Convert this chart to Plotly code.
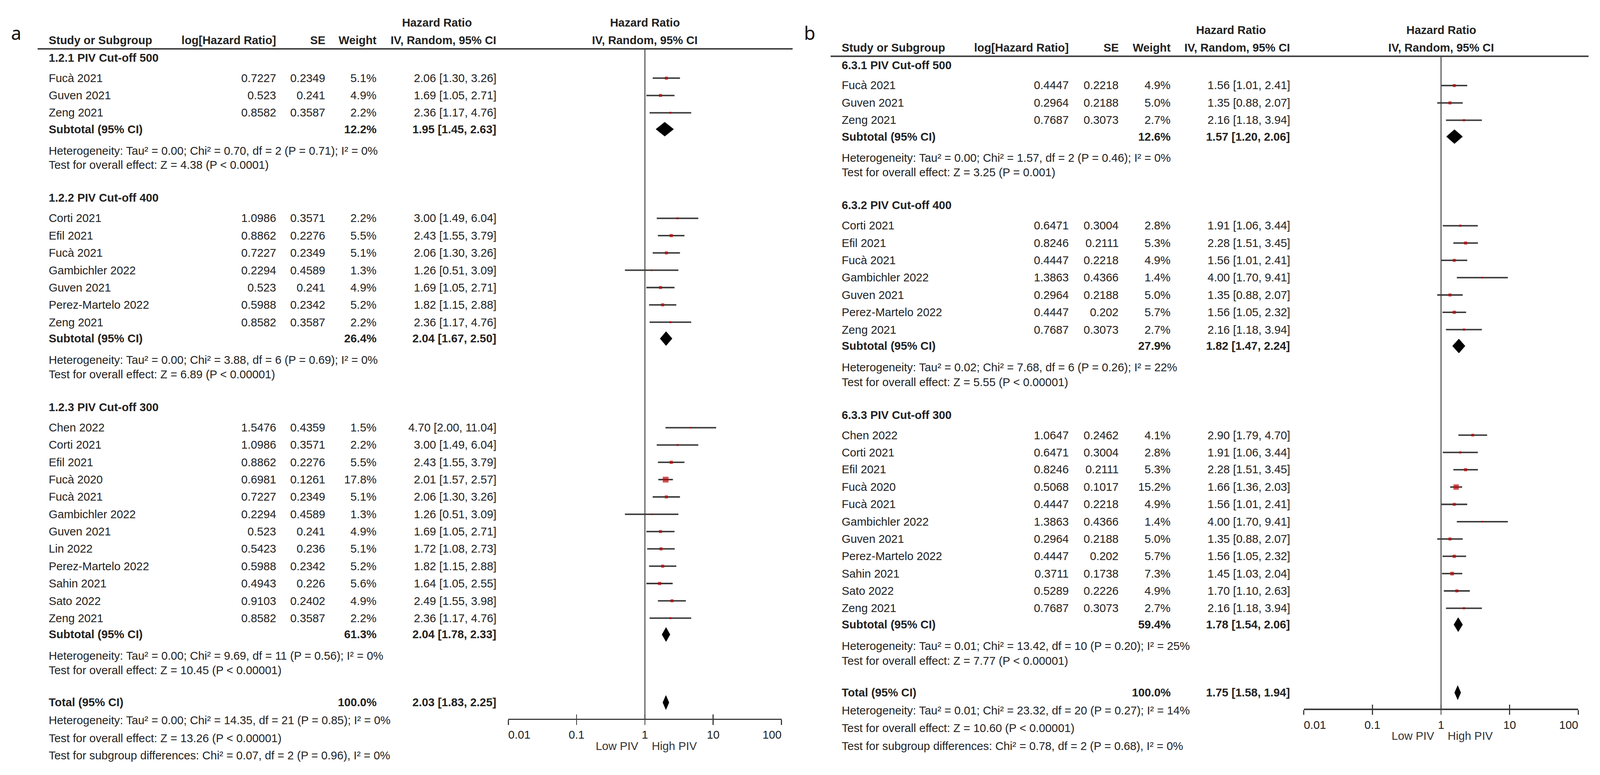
import plotly.graph_objects as go

W, H = 4338, 1983

# ---------------- data: panel a ----------------
a_group_titles = ["1.2.1 PIV Cut-off 500", "1.2.2 PIV Cut-off 400", "1.2.3 PIV Cut-off 300"]
a_group_sizes = [3, 7, 12]
a_study = ["Fucà 2021", "Guven 2021", "Zeng 2021",
           "Corti 2021", "Efil 2021", "Fucà 2021", "Gambichler 2022", "Guven 2021", "Perez-Martelo 2022", "Zeng 2021",
           "Chen 2022", "Corti 2021", "Efil 2021", "Fucà 2020", "Fucà 2021", "Gambichler 2022", "Guven 2021",
           "Lin 2022", "Perez-Martelo 2022", "Sahin 2021", "Sato 2022", "Zeng 2021"]
a_loghr = [0.7227, 0.523, 0.8582,
           1.0986, 0.8862, 0.7227, 0.2294, 0.523, 0.5988, 0.8582,
           1.5476, 1.0986, 0.8862, 0.6981, 0.7227, 0.2294, 0.523, 0.5423, 0.5988, 0.4943, 0.9103, 0.8582]
a_se = [0.2349, 0.241, 0.3587,
        0.3571, 0.2276, 0.2349, 0.4589, 0.241, 0.2342, 0.3587,
        0.4359, 0.3571, 0.2276, 0.1261, 0.2349, 0.4589, 0.241, 0.236, 0.2342, 0.226, 0.2402, 0.3587]
a_weight = [5.1, 4.9, 2.2,
            2.2, 5.5, 5.1, 1.3, 4.9, 5.2, 2.2,
            1.5, 2.2, 5.5, 17.8, 5.1, 1.3, 4.9, 5.1, 5.2, 5.6, 4.9, 2.2]
a_hr = [2.06, 1.69, 2.36,
        3.00, 2.43, 2.06, 1.26, 1.69, 1.82, 2.36,
        4.70, 3.00, 2.43, 2.01, 2.06, 1.26, 1.69, 1.72, 1.82, 1.64, 2.49, 2.36]
a_lo = [1.30, 1.05, 1.17,
        1.49, 1.55, 1.30, 0.51, 1.05, 1.15, 1.17,
        2.00, 1.49, 1.55, 1.57, 1.30, 0.51, 1.05, 1.08, 1.15, 1.05, 1.55, 1.17]
a_hi = [3.26, 2.71, 4.76,
        6.04, 3.79, 3.26, 3.09, 2.71, 2.88, 4.76,
        11.04, 6.04, 3.79, 2.57, 3.26, 3.09, 2.71, 2.73, 2.88, 2.55, 3.98, 4.76]
a_sub_weight = [12.2, 26.4, 61.3]
a_sub_hr = [1.95, 2.04, 2.04]
a_sub_lo = [1.45, 1.67, 1.78]
a_sub_hi = [2.63, 2.50, 2.33]
a_sub_het = ["Heterogeneity: Tau² = 0.00; Chi² = 0.70, df = 2 (P = 0.71); I² = 0%",
             "Heterogeneity: Tau² = 0.00; Chi² = 3.88, df = 6 (P = 0.69); I² = 0%",
             "Heterogeneity: Tau² = 0.00; Chi² = 9.69, df = 11 (P = 0.56); I² = 0%"]
a_sub_test = ["Test for overall effect: Z = 4.38 (P < 0.0001)",
              "Test for overall effect: Z = 6.89 (P < 0.00001)",
              "Test for overall effect: Z = 10.45 (P < 0.00001)"]
a_total = [100.0, 2.03, 1.83, 2.25]
a_total_lines = ["Heterogeneity: Tau² = 0.00; Chi² = 14.35, df = 21 (P = 0.85); I² = 0%",
                 "Test for overall effect: Z = 13.26 (P < 0.00001)",
                 "Test for subgroup differences: Chi² = 0.07, df = 2 (P = 0.96), I² = 0%"]

# ---------------- data: panel b ----------------
b_group_titles = ["6.3.1 PIV Cut-off 500", "6.3.2 PIV Cut-off 400", "6.3.3 PIV Cut-off 300"]
b_group_sizes = [3, 7, 11]
b_study = ["Fucà 2021", "Guven 2021", "Zeng 2021",
           "Corti 2021", "Efil 2021", "Fucà 2021", "Gambichler 2022", "Guven 2021", "Perez-Martelo 2022", "Zeng 2021",
           "Chen 2022", "Corti 2021", "Efil 2021", "Fucà 2020", "Fucà 2021", "Gambichler 2022", "Guven 2021",
           "Perez-Martelo 2022", "Sahin 2021", "Sato 2022", "Zeng 2021"]
b_loghr = [0.4447, 0.2964, 0.7687,
           0.6471, 0.8246, 0.4447, 1.3863, 0.2964, 0.4447, 0.7687,
           1.0647, 0.6471, 0.8246, 0.5068, 0.4447, 1.3863, 0.2964, 0.4447, 0.3711, 0.5289, 0.7687]
b_se = [0.2218, 0.2188, 0.3073,
        0.3004, 0.2111, 0.2218, 0.4366, 0.2188, 0.202, 0.3073,
        0.2462, 0.3004, 0.2111, 0.1017, 0.2218, 0.4366, 0.2188, 0.202, 0.1738, 0.2226, 0.3073]
b_weight = [4.9, 5.0, 2.7,
            2.8, 5.3, 4.9, 1.4, 5.0, 5.7, 2.7,
            4.1, 2.8, 5.3, 15.2, 4.9, 1.4, 5.0, 5.7, 7.3, 4.9, 2.7]
b_hr = [1.56, 1.35, 2.16,
        1.91, 2.28, 1.56, 4.00, 1.35, 1.56, 2.16,
        2.90, 1.91, 2.28, 1.66, 1.56, 4.00, 1.35, 1.56, 1.45, 1.70, 2.16]
b_lo = [1.01, 0.88, 1.18,
        1.06, 1.51, 1.01, 1.70, 0.88, 1.05, 1.18,
        1.79, 1.06, 1.51, 1.36, 1.01, 1.70, 0.88, 1.05, 1.03, 1.10, 1.18]
b_hi = [2.41, 2.07, 3.94,
        3.44, 3.45, 2.41, 9.41, 2.07, 2.32, 3.94,
        4.70, 3.44, 3.45, 2.03, 2.41, 9.41, 2.07, 2.32, 2.04, 2.63, 3.94]
b_sub_weight = [12.6, 27.9, 59.4]
b_sub_hr = [1.57, 1.82, 1.78]
b_sub_lo = [1.20, 1.47, 1.54]
b_sub_hi = [2.06, 2.24, 2.06]
b_sub_het = ["Heterogeneity: Tau² = 0.00; Chi² = 1.57, df = 2 (P = 0.46); I² = 0%",
             "Heterogeneity: Tau² = 0.02; Chi² = 7.68, df = 6 (P = 0.26); I² = 22%",
             "Heterogeneity: Tau² = 0.01; Chi² = 13.42, df = 10 (P = 0.20); I² = 25%"]
b_sub_test = ["Test for overall effect: Z = 3.25 (P = 0.001)",
              "Test for overall effect: Z = 5.55 (P < 0.00001)",
              "Test for overall effect: Z = 7.77 (P < 0.00001)"]
b_total = [100.0, 1.75, 1.58, 1.94]
b_total_lines = ["Heterogeneity: Tau² = 0.01; Chi² = 23.32, df = 20 (P = 0.27); I² = 14%",
                 "Test for overall effect: Z = 10.60 (P < 0.00001)",
                 "Test for subgroup differences: Chi² = 0.78, df = 2 (P = 0.68), I² = 0%"]

axis_ticks = [0.01, 0.1, 1, 10, 100]
axis_ticklabels = ["0.01", "0.1", "1", "10", "100"]
favours = ["Low PIV", "High PIV"]

# ---------------- styling / layout constants ----------------
FONT = "Liberation Sans, Arial, sans-serif"
FS = 31
TXT = "#222222"
RED = "#c00000"
GREY = "#3a3a3a"
ROW = 44.3

panels = [
    dict(label="a", data=dict(titles=a_group_titles, sizes=a_group_sizes, study=a_study, loghr=a_loghr, se=a_se,
                              weight=a_weight, hr=a_hr, lo=a_lo, hi=a_hi, sw=a_sub_weight, shr=a_sub_hr,
                              slo=a_sub_lo, shi=a_sub_hi, shet=a_sub_het, stest=a_sub_test,
                              tot=a_total, tlines=a_total_lines),
         rule_y=125, label_x=28, study_x=130, loghr_x=751, se_x=884, weight_x=1023, hrtxt_x=1348,
         rule_x0=102, rule_x1=2149, xa="x", px0=1378, px1=2119),
    dict(label="b", data=dict(titles=b_group_titles, sizes=b_group_sizes, study=b_study, loghr=b_loghr, se=b_se,
                              weight=b_weight, hr=b_hr, lo=b_lo, hi=b_hi, sw=b_sub_weight, shr=b_sub_hr,
                              slo=b_sub_lo, shi=b_sub_hi, shet=b_sub_het, stest=b_sub_test,
                              tot=b_total, tlines=b_total_lines),
         rule_y=144, label_x=2178, study_x=2280, loghr_x=2900, se_x=3035, weight_x=3176, hrtxt_x=3500,
         rule_x0=2252, rule_x1=4307, xa="x2", px0=3535, px1=4279),
]

fig = go.Figure()
annotations = []
shapes = []


def T(text, xpx, ypx, xanchor="left", bold=False, size=FS, family=FONT, color=TXT):
    if bold:
        text = "<b>" + text + "</b>"
    annotations.append(dict(text=text, x=xpx / W, y=ypx, xref="paper", yref="y", xanchor=xanchor,
                            yanchor="middle", showarrow=False, font=dict(size=size, family=family, color=color)))


def ci_text(h, l, u):
    return f"{h:.2f} [{l:.2f}, {u:.2f}]"


axis_positions = {}
for P in panels:
    d = P["data"]
    ry = P["rule_y"]
    xa = P["xa"]
    xc = (P["px0"] + P["px1"]) / 2.0

    # panel letter
    T(P["label"], P["label_x"], 84, size=50, family="Noto Sans, DejaVu Sans, sans-serif", color="#111111")

    # headers
    T("Hazard Ratio", P["hrtxt_x"] - 163, ry - 67, xanchor="center", bold=True)
    T("Hazard Ratio", xc, ry - 67, xanchor="center", bold=True)
    T("Study or Subgroup", P["study_x"], ry - 22, bold=True)
    T("log[Hazard Ratio]", P["loghr_x"], ry - 22, xanchor="right", bold=True)
    T("SE", P["se_x"], ry - 22, xanchor="right", bold=True)
    T("Weight", P["weight_x"], ry - 22, xanchor="right", bold=True)
    T("IV, Random, 95% CI", P["hrtxt_x"], ry - 22, xanchor="right", bold=True)
    T("IV, Random, 95% CI", xc, ry - 22, xanchor="center", bold=True)
    shapes.append(dict(type="line", xref="paper", yref="y", x0=P["rule_x0"] / W, x1=P["rule_x1"] / W,
                       y0=ry, y1=ry, line=dict(color="#444444", width=4)))

    # rows
    ci_x, ci_y = [], []
    sq_x, sq_y, sq_s = [], [], []
    dm_x, dm_y = [], []
    y = ry + 23
    k = 0
    test_y = y
    for g, n in enumerate(d["sizes"]):
        T(d["titles"][g], P["study_x"], y, bold=True)
        s0 = y + 52
        for i in range(n):
            yy = s0 + i * ROW
            T(d["study"][k], P["study_x"], yy)
            T(str(d["loghr"][k]), P["loghr_x"], yy, xanchor="right")
            T(str(d["se"][k]), P["se_x"], yy, xanchor="right")
            T(f"{d['weight'][k]:.1f}%", P["weight_x"], yy, xanchor="right")
            T(ci_text(d["hr"][k], d["lo"][k], d["hi"][k]), P["hrtxt_x"], yy, xanchor="right")
            ci_x += [d["lo"][k], d["hi"][k], None]
            ci_y += [yy, yy, None]
            sq_x.append(d["hr"][k])
            sq_y.append(yy)
            sq_s.append(3.7 * d["weight"][k] ** 0.5)
            k += 1
        sub_y = s0 + (n - 1) * ROW + 42
        T("Subtotal (95% CI)", P["study_x"], sub_y, bold=True)
        T(f"{d['sw'][g]:.1f}%", P["weight_x"], sub_y, xanchor="right", bold=True)
        T(ci_text(d["shr"][g], d["slo"][g], d["shi"][g]), P["hrtxt_x"], sub_y, xanchor="right", bold=True)
        dm_x += [d["slo"][g], d["shr"][g], d["shi"][g], d["shr"][g], d["slo"][g], None]
        dm_y += [sub_y, sub_y - 18, sub_y, sub_y + 18, sub_y, None]
        het_y = sub_y + 55
        test_y = het_y + 37
        T(d["shet"][g], P["study_x"], het_y)
        T(d["stest"][g], P["study_x"], test_y)
        y = test_y + 84

    tot_y = test_y + 82
    tw, th, tl, tu = d["tot"]
    T("Total (95% CI)", P["study_x"], tot_y, bold=True)
    T(f"{tw:.1f}%", P["weight_x"], tot_y, xanchor="right", bold=True)
    T(ci_text(th, tl, tu), P["hrtxt_x"], tot_y, xanchor="right", bold=True)
    dm_x += [tl, th, tu, th, tl, None]
    dm_y += [tot_y, tot_y - 18, tot_y, tot_y + 18, tot_y, None]
    for j, line in enumerate(d["tlines"]):
        T(line, P["study_x"], tot_y + 46 + j * 45)

    axis_y = tot_y + 43
    axis_positions[xa] = axis_y

    # favours labels
    T(favours[0], xc - 16, axis_y + 68, xanchor="right", color="#333333")
    T(favours[1], xc + 16, axis_y + 68, xanchor="left", color="#333333")

    # reference line at HR = 1
    fig.add_trace(go.Scatter(x=[1, 1], y=[ry, axis_y], mode="lines", xaxis=xa, yaxis="y",
                             line=dict(color="#555555", width=3), hoverinfo="skip", showlegend=False))
    # confidence intervals
    fig.add_trace(go.Scatter(x=ci_x, y=ci_y, mode="lines", xaxis=xa, yaxis="y",
                             line=dict(color=GREY, width=4), hoverinfo="skip", showlegend=False))
    # study squares
    fig.add_trace(go.Scatter(x=sq_x, y=sq_y, mode="markers", xaxis=xa, yaxis="y",
                             marker=dict(symbol="square", size=sq_s, color=RED, line=dict(width=0)),
                             hoverinfo="skip", showlegend=False))
    # pooled diamonds
    fig.add_trace(go.Scatter(x=dm_x, y=dm_y, mode="lines", fill="toself", fillcolor="black", xaxis=xa, yaxis="y",
                             line=dict(color="black", width=1), hoverinfo="skip", showlegend=False))

# dummy traces for the overlaid tick axes
for xa in ["x3", "x4"]:
    fig.add_trace(go.Scatter(x=[1], y=[-500], mode="markers", xaxis=xa, yaxis="y",
                             marker=dict(opacity=0), hoverinfo="skip", showlegend=False))

ticktext_shifted = ["\u00a0" * 7 + axis_ticklabels[0]] + axis_ticklabels[1:4] + [axis_ticklabels[4] + "\u00a0" * 6]


def forest_axis(P, pos):
    return dict(type="log", range=[-2, 2], domain=[P["px0"] / W, P["px1"] / W], anchor="free",
                position=pos, showline=True, linewidth=4, linecolor="#3c3c3c", ticks="outside", ticklen=13,
                tickwidth=3, tickcolor="#3c3c3c", tickvals=axis_ticks, ticktext=ticktext_shifted,
                tickfont=dict(family=FONT, size=FS, color=TXT), showgrid=False, zeroline=False,
                fixedrange=True, automargin=False)


def inner_axis(P, pos, over):
    return dict(type="log", range=[-2, 2], overlaying=over, anchor="free", position=pos, showline=False,
                ticks="inside", ticklen=13, tickwidth=3, tickcolor="#3c3c3c", tickvals=axis_ticks,
                showticklabels=False, showgrid=False, zeroline=False, fixedrange=True, automargin=False)


pos_a = (H - axis_positions["x"]) / H
pos_b = (H - axis_positions["x2"]) / H

fig.update_layout(
    width=W, height=H, autosize=False,
    margin=dict(l=0, r=0, t=0, b=0),
    paper_bgcolor="white", plot_bgcolor="rgba(0,0,0,0)",
    showlegend=False, hovermode=False,
    xaxis=forest_axis(panels[0], pos_a),
    xaxis2=forest_axis(panels[1], pos_b),
    xaxis3=inner_axis(panels[0], pos_a, "x"),
    xaxis4=inner_axis(panels[1], pos_b, "x2"),
    yaxis=dict(range=[H, 0], domain=[0, 1], visible=False, fixedrange=True, anchor="free", position=0),
    annotations=annotations,
    shapes=shapes,
)

# fit the figure to the browser viewport: scale to its width, stretch row layout to its height
post = """
document.documentElement.style.margin='0';
document.documentElement.style.overflow='hidden';
document.body.style.margin='0';
document.body.style.overflow='hidden';
var gd = document.getElementById('{plot_id}');
var iw = window.innerWidth, ih = window.innerHeight;
var s = iw / %d;
if (s > 0) {
  gd.style.transformOrigin = '0 0';
  gd.style.transform = 'scale(' + s + ')';
  var newH = ih / s;
  if (Math.abs(newH - %d) > 2) {
    gd.style.height = newH + 'px';
    Plotly.relayout(gd, {height: newH});
  }
}
""" % (W, H)

fig.write_html("out.html", post_script=post, config={"displayModeBar": False, "staticPlot": True})
